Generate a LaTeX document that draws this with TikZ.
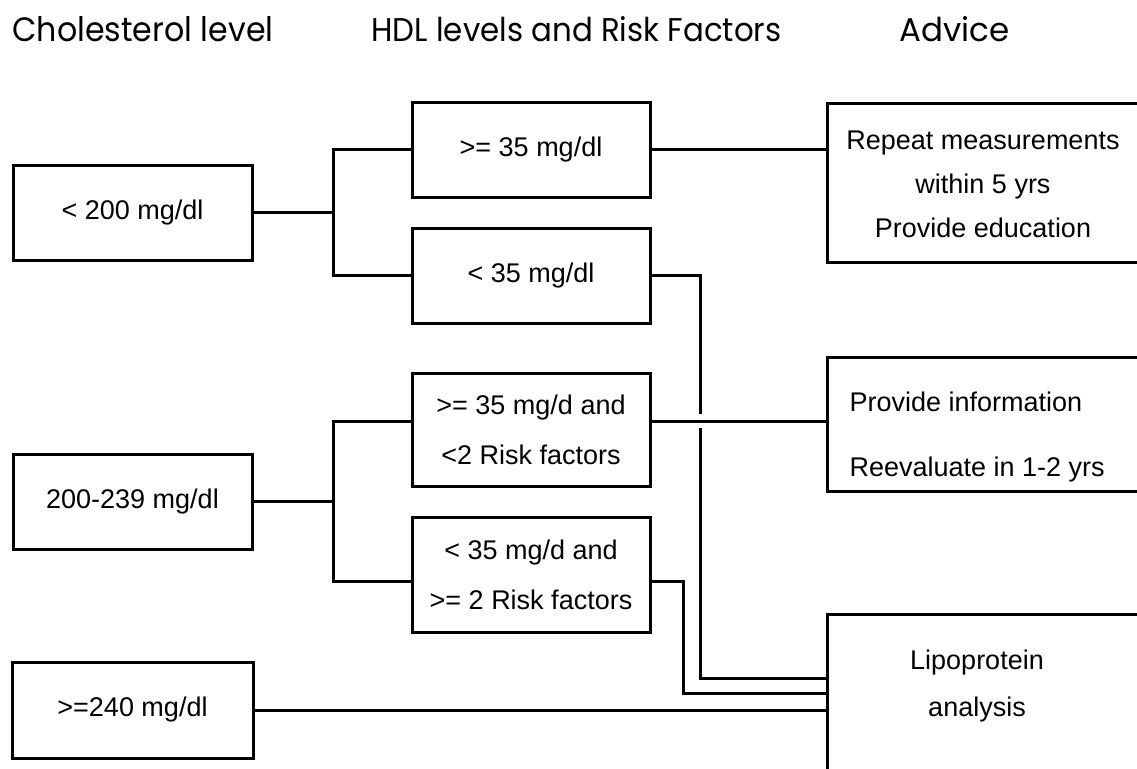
\documentclass[tikz,border=0pt]{standalone}
\usepackage{graphicx}
\usepackage{fontspec}
\setmainfont{Liberation Sans}
\newfontfamily\headfont{Poppins}
\begin{document}
\begin{tikzpicture}[x=1pt,y=-1pt,line width=3pt,
  box/.style={draw,line width=3pt,inner sep=0pt,align=center,font=\fontsize{27}{50}\selectfont},
  openbox/.style={draw,line width=3pt,inner sep=0pt},
  txt/.style={inner sep=0pt,font=\fontsize{27}{44}\selectfont},
  head/.style={inner sep=0pt,anchor=base west}]
\useasboundingbox[fill=white] (0,0) rectangle (1137,768);

% headings
\node[head] (h1) at (11,42) {\resizebox{261pt}{25pt}{\headfont Cholesterol level}};
\node[head] (h2) at (370,42) {\resizebox{410pt}{25pt}{\headfont HDL levels and Risk Factors}};
\node[head] (h3) at (898,42) {\resizebox{110pt}{25pt}{\headfont Advice}};

% left column
\node[box,minimum width=239pt,minimum height=95pt] (A) at (132.5,212.5) {< 200 mg/dl};
\node[box,minimum width=239pt,minimum height=95pt] (F) at (132.5,501.5) {200-239 mg/dl};
\node[box,minimum width=241pt,minimum height=96pt] (G) at (132.5,710) {>=240 mg/dl};

% middle column
\node[box,minimum width=238pt,minimum height=95pt] (B) at (531,149.5) {>= 35 mg/dl};
\node[box,minimum width=238pt,minimum height=95pt] (C) at (531,275.5) {< 35 mg/dl};
\node[box,minimum width=238pt,minimum height=113pt] (D) at (531,429.5) {>= 35 mg/d and\\<2 Risk factors};
\node[box,minimum width=238pt,minimum height=115pt] (E) at (531,574.5) {< 35 mg/d and\\>= 2 Risk factors};

% right column (open to the right)
\node[openbox,minimum width=323pt,minimum height=159pt] (R1) at (988.5,182.5) {};
\node[openbox,minimum width=323pt,minimum height=134pt] (R2) at (988.5,424) {};
\node[openbox,minimum width=323pt,minimum height=176pt] (R3) at (988.5,702) {};
\node[txt,align=center] (T1) at (983,184) {Repeat measurements\\within 5 yrs\\Provide education};
\node[txt,align=left,anchor=west,font=\fontsize{27}{65}\selectfont] (T2) at (848,437) {Provide information\\Reevaluate in 1-2 yrs};
\node[txt,align=center,font=\fontsize{27}{47}\selectfont] (T3) at (977,686) {Lipoprotein\\analysis};

% helper coordinates
\coordinate (jx) at (333,0);
\coordinate (yD) at (0,421);
\coordinate (yE) at (0,581);
\coordinate (y678) at (0,678);
\coordinate (y693) at (0,693);
\coordinate (c1) at (700,414);
\coordinate (c2) at (700,428);
\coordinate (ex) at (683,0);

% connectors
\draw (A.east) -- (A.east -| jx);
\draw (B.west) -| (jx |- C.west) -- (C.west);
\draw (B.east) -- (B.east -| R1.west);
\draw (D.east |- yD) -- (R2.west |- yD);
\draw (C.east) -| (c1);
\draw (c2) |- (R3.west |- y678);
\draw (F.east) -- (F.east -| jx);
\draw (D.west |- yD) -| (jx |- yE) -- (E.west |- yE);
\draw (E.east |- yE) -| (ex |- y693) -- (R3.west |- y693);
\draw (G.east) -- (G.east -| R3.west);
\end{tikzpicture}
\end{document}
